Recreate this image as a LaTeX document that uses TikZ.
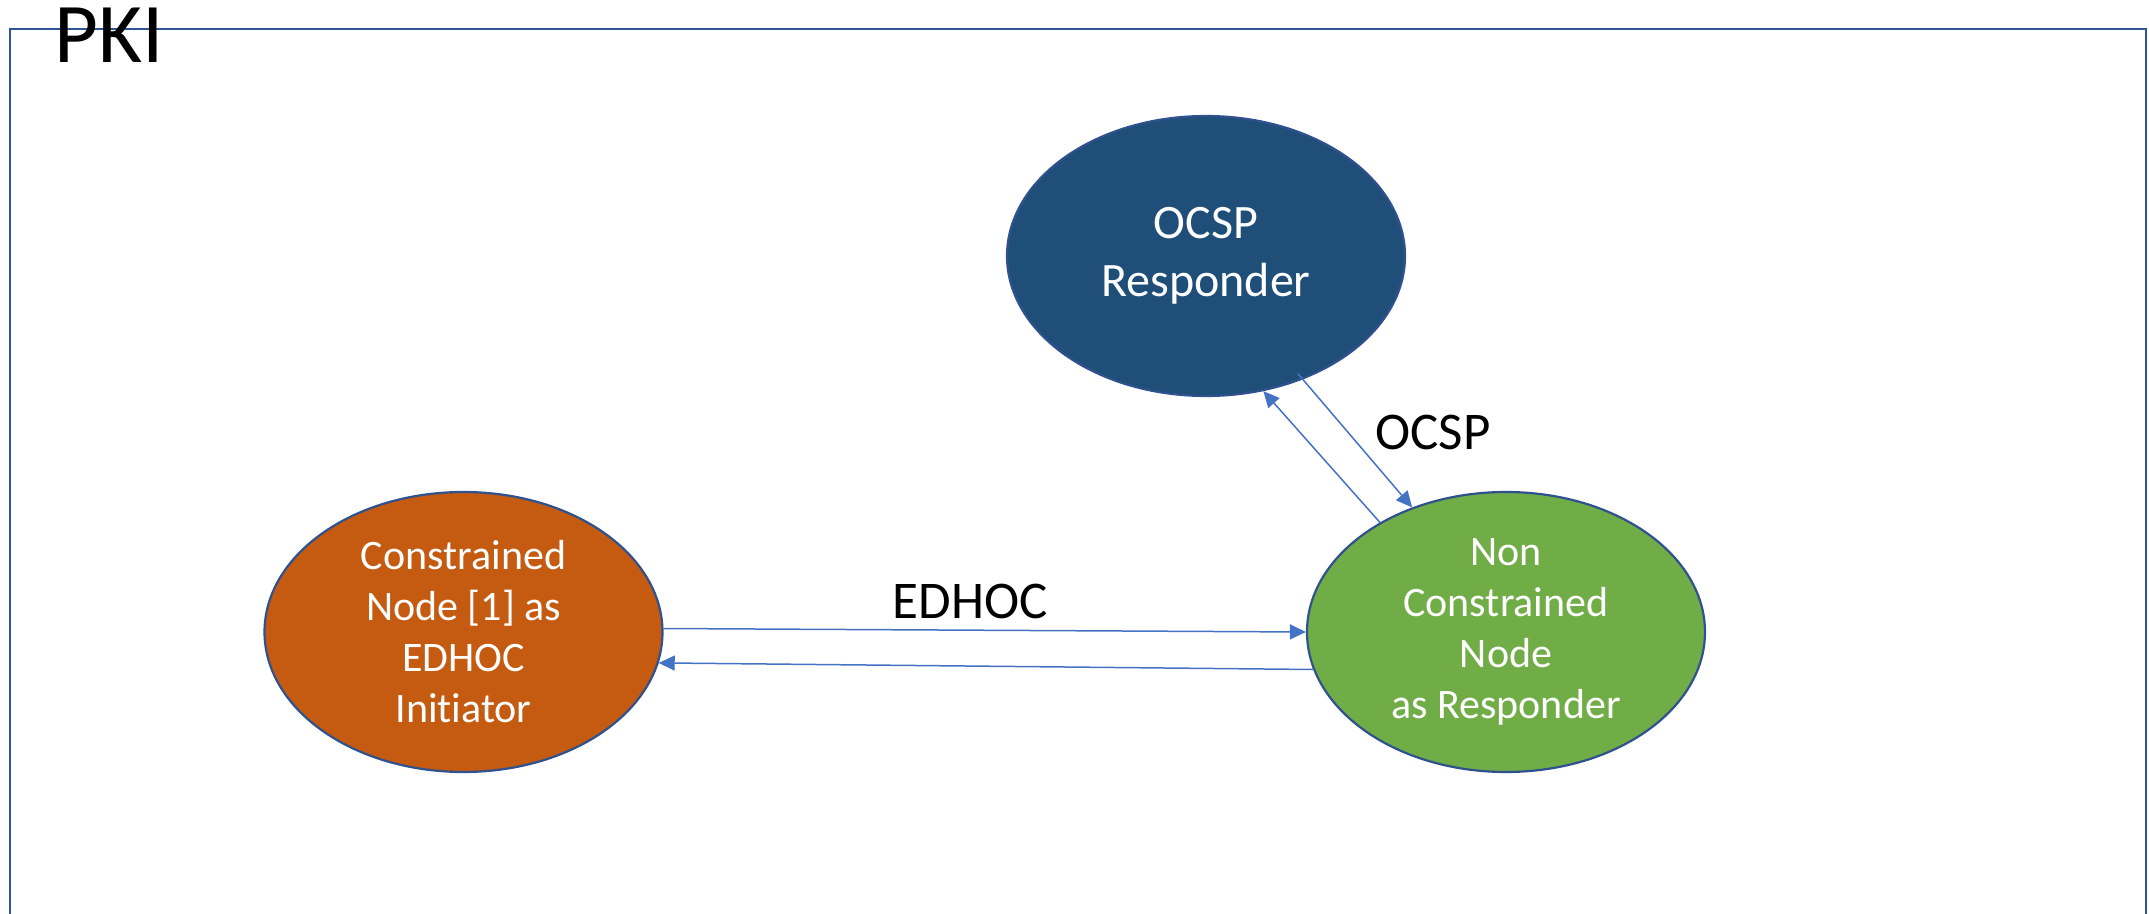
\documentclass[tikz,border=0pt]{standalone}
\usepackage{fontspec}
\setmainfont{Carlito}[Ligatures={NoCommon}]
\usetikzlibrary{shapes.geometric,arrows.meta,calc}
\definecolor{ocspblue}{HTML}{1F4E79}
\definecolor{nodeorange}{HTML}{C55A11}
\definecolor{nodegreen}{HTML}{70AD47}
\definecolor{rimblue}{HTML}{2F528F}
\definecolor{arrowblue}{HTML}{4472C4}
\definecolor{frameblue}{HTML}{2F5597}
\begin{document}
\begin{tikzpicture}[x=0.5pt,y=-0.5pt,
  entity/.style={ellipse, draw=rimblue, line width=1.1pt,
    minimum width=199pt, minimum height=140pt, inner sep=0pt,
    text=white, align=center},
  smalltext/.style={font=\fontsize{21pt}{25.5pt}\selectfont},
  bigtext/.style={font=\fontsize{24pt}{29pt}\selectfont},
  flowlabel/.style={font=\fontsize{26.5pt}{32pt}\selectfont, inner sep=0pt, anchor=base},
  msg/.style={draw=arrowblue, line width=0.75pt, -{Triangle[length=8pt,width=7.5pt]}}
]
\useasboundingbox (0,0) rectangle (2149,914);
\clip (0,0) rectangle (2149,914);

% PKI domain frame (open at the bottom edge of the page)
\draw[frameblue, line width=1.4pt] (10,29) rectangle (2146,960);
\node[font=\fontsize{42.5pt}{50pt}\selectfont, anchor=base west, inner sep=0pt] (pki) at (54,63) {PKI};

% Entities
\node[entity, fill=ocspblue, bigtext] (ocsp) at (1206,256) {OCSP\\Responder};
\node[entity, fill=nodeorange, smalltext] (init) at (463.5,632) {Constrained\\Node [1] as\\EDHOC\\Initiator};
\node[entity, fill=nodegreen, smalltext] (resp) at (1506,632) {Non\\Constrained\\Node\\as Responder};

% Protocol labels
\node[flowlabel] (edhoclbl) at (970,618) {EDHOC};
\node[flowlabel] (ocsplbl) at (1433,450) {OCSP};

% EDHOC exchange
\draw[msg] (init.1.15) -- (resp.180.86);
\draw[msg] (resp.191.7) -- (init.-9.78);

% OCSP exchange
\draw[msg] (resp.139.8) -- (ocsp.-67.6);
\draw[msg] ($(ocsp.center)!0.952!(ocsp.-52.1)$) -- (resp.127.2);
\end{tikzpicture}
\end{document}
